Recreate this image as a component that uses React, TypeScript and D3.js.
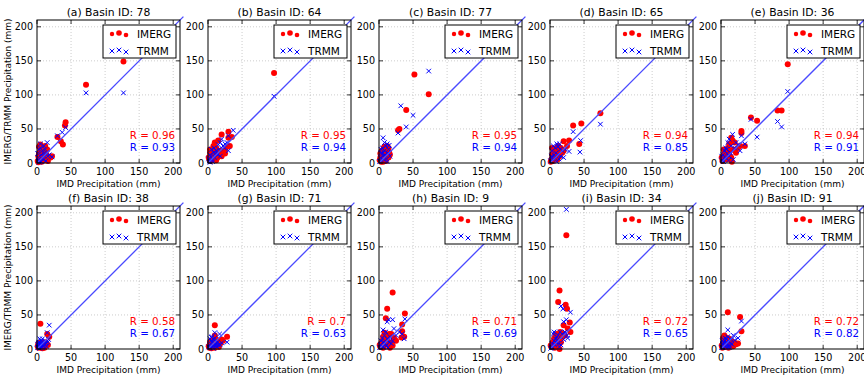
import * as d3 from "d3"

type Pt = [number, number]

// IMD (x) vs satellite (y) daily precipitation, mm
const imerg78: Pt[] = [[127,149],[72,115],[42,60],[41,55],[30,38],[35,32],[38,27],[22,10],[20,8],[15,20],[12,25],[5,27],[8,22],[3,24],[10,18],[14,12],[6,15],[2,10],[4,6],[9,8],[11,4],[7,2],[1,3],[3,14],[13,6],[16,3],[5,19],[12,15],[2,1],[8,12]]
const trmm78: Pt[] = [[127,103],[72,103],[42,52],[37,45],[30,40],[22,9],[15,30],[5,28],[10,25],[12,20],[8,18],[3,20],[6,12],[14,15],[2,8],[9,5],[4,3],[11,10],[1,14],[7,7],[13,3],[16,10],[3,1],[5,22],[10,14],[2,4],[6,2],[18,12]]

const imerg64: Pt[] = [[97,132],[30,46],[20,42],[35,38],[30,37],[32,25],[28,24],[25,20],[15,33],[10,30],[12,22],[18,18],[22,16],[8,25],[5,18],[3,15],[6,10],[2,5],[10,12],[14,8],[4,3],[1,8],[7,5],[12,4],[16,12],[9,16],[20,10],[3,20],[25,14]]
const trmm64: Pt[] = [[97,98],[37,48],[30,40],[20,35],[18,30],[30,18],[15,27],[5,20],[25,28],[22,25],[12,18],[8,15],[3,12],[10,8],[6,5],[2,3],[14,12],[4,9],[1,6],[7,2],[11,14],[16,20],[9,22],[18,10],[28,30],[24,22],[3,1]]

const imerg77: Pt[] = [[52,130],[73,101],[40,78],[30,50],[28,48],[14,22],[12,25],[10,20],[8,16],[6,12],[4,18],[2,8],[5,5],[12,10],[15,15],[3,2],[7,22],[9,7],[1,4],[11,14],[13,18],[6,2],[2,14],[4,10],[8,24],[10,3],[14,8],[16,12]]
const trmm77: Pt[] = [[73,135],[32,84],[50,70],[40,53],[28,44],[6,37],[12,28],[10,25],[14,20],[8,18],[5,22],[3,15],[2,8],[6,10],[9,12],[4,4],[11,6],[13,15],[1,2],[7,5],[15,26],[3,20],[5,14],[12,2],[16,10],[8,30]]

const imerg65: Pt[] = [[74,73],[46,58],[34,55],[28,33],[20,32],[43,28],[25,25],[12,25],[10,22],[15,18],[8,20],[5,15],[3,12],[6,8],[2,5],[9,10],[12,14],[4,3],[1,2],[7,18],[11,5],[14,10],[18,15],[20,18],[3,22],[16,22],[5,10]]
const trmm65: Pt[] = [[74,57],[34,46],[45,33],[44,16],[28,17],[20,8],[10,28],[12,24],[8,22],[5,25],[15,20],[18,18],[3,18],[6,12],[2,10],[9,15],[4,5],[1,3],[7,8],[11,12],[13,6],[16,10],[22,20],[14,28],[3,8],[10,2]]

const imerg36: Pt[] = [[98,145],[44,67],[53,62],[83,77],[89,77],[30,47],[30,44],[15,37],[17,33],[20,30],[35,25],[12,28],[28,25],[25,22],[18,20],[10,22],[8,18],[5,15],[3,10],[6,6],[2,3],[12,12],[15,8],[4,20],[9,5],[22,15],[13,18],[1,8],[16,2],[7,12]]
const trmm36: Pt[] = [[98,105],[44,64],[83,61],[89,53],[53,38],[17,42],[12,35],[30,40],[22,30],[25,27],[35,28],[10,30],[15,25],[20,22],[8,20],[5,18],[3,12],[6,8],[2,5],[9,14],[12,10],[4,2],[1,10],[18,5],[14,15],[7,22],[28,18],[11,4]]

const imerg38: Pt[] = [[5,37],[15,22],[18,18],[12,10],[10,6],[8,8],[5,5],[3,3],[2,8],[6,2],[4,9],[1,4],[7,6],[9,3],[11,2],[13,5],[14,8],[3,6],[5,9],[8,1],[2,2],[6,7],[10,9],[12,4],[16,6]]
const trmm38: Pt[] = [[18,35],[15,24],[8,15],[4,15],[17,14],[12,12],[10,10],[6,9],[3,8],[2,5],[5,3],[7,6],[9,4],[1,2],[4,1],[11,7],[13,9],[14,4],[6,12],[3,10],[8,2],[2,9],[10,5],[5,7],[16,10],[1,7]]

const imerg71: Pt[] = [[10,35],[10,20],[28,18],[20,14],[22,12],[15,12],[12,14],[8,10],[5,8],[3,5],[6,3],[2,2],[9,6],[11,4],[14,6],[4,12],[7,13],[13,9],[16,3],[18,8],[1,4],[5,1],[10,2],[17,12],[3,10]]
const trmm71: Pt[] = [[10,24],[5,17],[28,10],[17,22],[3,15],[8,14],[12,12],[6,10],[4,8],[2,6],[9,5],[11,8],[14,10],[1,3],[7,4],[13,3],[15,6],[5,12],[3,2],[10,16],[18,6],[20,9],[8,1],[6,18],[12,6]]

const imerg9: Pt[] = [[20,83],[12,59],[38,52],[10,45],[8,24],[34,36],[34,26],[33,17],[37,18],[18,22],[10,20],[15,22],[12,15],[6,18],[5,12],[3,8],[8,10],[4,5],[2,3],[7,4],[10,8],[14,6],[18,10],[20,5],[25,12],[1,6],[16,2],[22,16],[9,14],[6,2]]
const trmm9: Pt[] = [[14,43],[20,43],[38,44],[12,40],[34,22],[22,30],[6,28],[37,15],[10,25],[16,18],[8,20],[12,15],[5,16],[3,12],[7,10],[2,6],[4,4],[9,8],[11,5],[15,10],[18,8],[1,2],[6,3],[13,2],[20,12],[25,20],[30,25]]

const imerg34: Pt[] = [[24,167],[14,86],[12,69],[23,65],[25,59],[29,39],[20,35],[26,30],[30,25],[20,22],[15,25],[10,22],[12,18],[8,20],[6,15],[4,10],[3,6],[2,3],[5,4],[8,8],[10,12],[14,14],[18,18],[16,10],[7,2],[14,0],[1,5],[11,5],[22,20],[9,16]]
const trmm34: Pt[] = [[24,205],[16,63],[19,59],[30,54],[24,43],[20,40],[26,16],[25,20],[15,25],[12,20],[10,18],[18,22],[8,15],[6,12],[5,22],[3,8],[2,4],[4,2],[7,6],[9,10],[11,14],[13,8],[1,1],[14,3],[20,14],[16,6],[6,25],[22,25]]

const imerg91: Pt[] = [[10,54],[28,47],[30,26],[22,7],[5,20],[17,10],[12,15],[8,12],[10,8],[6,6],[4,4],[3,10],[2,2],[7,3],[5,14],[9,16],[14,6],[15,12],[20,9],[25,8],[1,5],[11,2],[13,10],[18,4],[3,16]]
const trmm91: Pt[] = [[10,28],[30,41],[25,16],[20,13],[18,20],[10,18],[8,15],[6,12],[4,10],[3,8],[2,6],[5,5],[7,3],[9,7],[1,2],[11,12],[12,5],[14,9],[15,14],[13,2],[6,16],[4,14],[3,2],[8,10],[16,7],[2,12],[10,3]]

const letters = ["a", "b", "c", "d", "e", "f", "g", "h", "i", "j"]
const basinIds = [78, 64, 77, 65, 36, 38, 71, 9, 34, 91]
const imergSeries = [imerg78, imerg64, imerg77, imerg65, imerg36, imerg38, imerg71, imerg9, imerg34, imerg91]
const trmmSeries = [trmm78, trmm64, trmm77, trmm65, trmm36, trmm38, trmm71, trmm9, trmm34, trmm91]
const rImerg = ["0.96", "0.95", "0.95", "0.94", "0.94", "0.58", "0.7", "0.71", "0.72", "0.72"]
const rTrmm = ["0.93", "0.94", "0.94", "0.85", "0.91", "0.67", "0.63", "0.69", "0.65", "0.82"]
const ticks = [0, 50, 100, 150, 200]

const W = 864
const H = 376
const PW = 143
const PH = 143
const LEFTS = [37, 208, 379, 550, 721]
const TOPS = [20, 206]
const RED = "#ff0000"
const BLUE = "#0000ff"
const FONT = "DejaVu Sans"

const x = d3.scaleLinear().domain([0, 210]).range([0, PW])
const y = d3.scaleLinear().domain([0, 210]).range([PH, 0])

function Cross({ cx, cy }: { cx: number; cy: number }) {
  const s = 2.3
  return (
    <path
      d={`M${cx - s},${cy - s}L${cx + s},${cy + s}M${cx - s},${cy + s}L${cx + s},${cy - s}`}
      stroke={BLUE}
      strokeWidth={1}
      fill="none"
    />
  )
}

function Panel({ i }: { i: number }) {
  const left = LEFTS[i % 5]
  const top = TOPS[Math.floor(i / 5)]
  const line = d3.line<number>().x((d) => x(d)).y((d) => y(d))
  const legendDots = [
    { dx: 75, r: 2.2, dy: 0 },
    { dx: 82, r: 2.8, dy: -1 },
    { dx: 89, r: 2.3, dy: 1 },
  ]
  return (
    <g transform={`translate(${left},${top})`}>
      <text x={PW / 2} y={-4} textAnchor="middle" fontSize={10.8} fontFamily={FONT}>
        ({letters[i]}) Basin ID: {basinIds[i]}
      </text>
      {/* grid */}
      {ticks.slice(1).map((t) => (
        <g key={t}>
          <line x1={x(t)} x2={x(t)} y1={0} y2={PH} stroke="#aaa" strokeWidth={0.6} strokeDasharray="1,2" />
          <line x1={0} x2={PW} y1={y(t)} y2={y(t)} stroke="#aaa" strokeWidth={0.6} strokeDasharray="1,2" />
        </g>
      ))}
      {imergSeries[i].map((d, k) => (
        <circle key={k} cx={x(d[0])} cy={y(d[1])} r={3} fill={RED} />
      ))}
      {trmmSeries[i].map((d, k) => (
        <Cross key={k} cx={x(d[0])} cy={y(d[1])} />
      ))}
      {/* 1:1 line */}
      <path d={line([0, 215]) ?? ""} stroke="#4a4aff" strokeWidth={1.3} fill="none" />
      <rect x={0} y={0} width={PW} height={PH} fill="none" stroke="#000" strokeWidth={1} />
      {ticks.map((t) => (
        <g key={t}>
          <line x1={x(t)} x2={x(t)} y1={PH} y2={PH - 4} stroke="#000" strokeWidth={0.8} />
          <line x1={x(t)} x2={x(t)} y1={0} y2={4} stroke="#000" strokeWidth={0.8} />
          <line x1={0} x2={4} y1={y(t)} y2={y(t)} stroke="#000" strokeWidth={0.8} />
          <line x1={PW} x2={PW - 4} y1={y(t)} y2={y(t)} stroke="#000" strokeWidth={0.8} />
          <text x={x(t)} y={PH + 12} textAnchor="middle" fontSize={9.6} fontFamily={FONT}>
            {t}
          </text>
          <text x={-4} y={y(t) + 3.5} textAnchor="end" fontSize={9.6} fontFamily={FONT}>
            {t}
          </text>
        </g>
      ))}
      <text x={PW / 2} y={PH + 24} textAnchor="middle" fontSize={9} fontFamily={FONT}>
        IMD Precipitation (mm)
      </text>
      {/* legend */}
      <rect x={66} y={5} width={73} height={33} fill="#fff" stroke="#000" strokeWidth={1} />
      {legendDots.map((m, k) => (
        <circle key={k} cx={m.dx} cy={14 + m.dy} r={m.r} fill={RED} />
      ))}
      {legendDots.map((m, k) => (
        <Cross key={k} cx={m.dx} cy={31 + m.dy} />
      ))}
      <text x={100} y={18} fontSize={10.5} fontFamily={FONT}>IMERG</text>
      <text x={100} y={35} fontSize={10.5} fontFamily={FONT}>TRMM</text>
      <text x={PW - 5} y={119} textAnchor="end" fontSize={10.3} fontFamily={FONT} fill={RED}>
        R = {rImerg[i]}
      </text>
      <text x={PW - 5} y={131} textAnchor="end" fontSize={10.3} fontFamily={FONT} fill={BLUE}>
        R = {rTrmm[i]}
      </text>
    </g>
  )
}

export default function App() {
  return (
    <div style={{ position: "absolute", left: 0, top: 0 }}>
      <svg width={W} height={H} style={{ display: "block", background: "#fff" }}>
        {letters.map((_, i) => (
          <Panel key={i} i={i} />
        ))}
        {TOPS.map((t) => (
          <text
            key={t}
            transform={`translate(11,${t + PH / 2}) rotate(-90)`}
            textAnchor="middle"
            fontSize={9}
            fontFamily={FONT}
          >
            IMERG/TRMM Precipitation (mm)
          </text>
        ))}
      </svg>
    </div>
  )
}
